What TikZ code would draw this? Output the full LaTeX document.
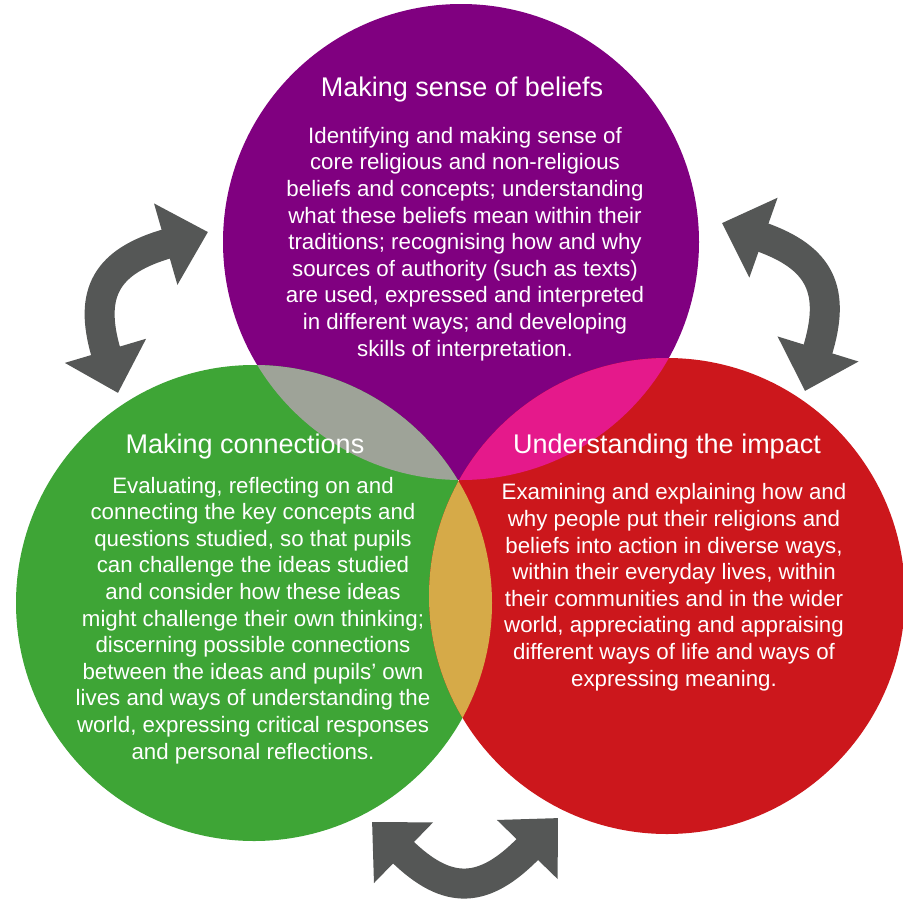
\documentclass[tikz,border=0pt]{standalone}
\usepackage{fontspec}
\setmainfont{Liberation Sans}
\usetikzlibrary{arrows.meta}

\definecolor{sensepurple}{HTML}{800080}
\definecolor{connectgreen}{HTML}{3EA536}
\definecolor{impactred}{HTML}{CC171C}
\definecolor{lensgray}{HTML}{9EA398}
\definecolor{lenspink}{HTML}{E5198B}
\definecolor{lensorange}{HTML}{D6AA48}
\definecolor{arrowgray}{HTML}{555756}

\begin{document}
\begin{tikzpicture}[
    x=1pt, y=-1pt,
    bubble/.style={circle, minimum size=476pt, inner sep=0pt, draw=none},
    heading/.style={text=white, anchor=base, inner sep=0pt, font=\fontsize{27}{30}\selectfont},
    body/.style={text=white, anchor=base, inner sep=0pt, align=center, font=\fontsize{22.3}{26.6}\selectfont},
    swaparrow/.style={line width=30pt, draw=arrowgray, {Triangle[length=44pt,width=82pt]}-{Triangle[length=44pt,width=82pt]}}
]
    \useasboundingbox (0,0) rectangle (903,900);

    % the three circles
    \node[bubble, fill=sensepurple] (sense) at (461,242) {};
    \node[bubble, fill=connectgreen] (connect) at (254,603) {};
    \node[bubble, fill=impactred] (impact) at (667,596) {};

    % overlaps
    \begin{scope}
        \clip (sense.center) circle (238);
        \fill[lensgray] (connect.center) circle (238);
        \fill[lenspink] (impact.center) circle (238);
    \end{scope}
    \begin{scope}
        \clip (connect.center) circle (238);
        \fill[lensorange] (impact.center) circle (238);
    \end{scope}

    % texts (body nodes sit on the baseline of their last line)
    \node[heading] (sensetitle) at (462,96) {Making sense of beliefs};
    \node[body] (sensetext) at (465,356) {Identifying and making sense of\\
        core religious and non-religious\\
        beliefs and concepts; understanding\\
        what these beliefs mean within their\\
        traditions; recognising how and why\\
        sources of authority (such as texts)\\
        are used, expressed and interpreted\\
        in different ways; and developing\\
        skills of interpretation.};

    \node[heading] (connecttitle) at (245,453) {Making connections};
    \node[body] (connecttext) at (253,759) {Evaluating, reflecting on and\\
        connecting the key concepts and\\
        questions studied, so that pupils\\
        can challenge the ideas studied\\
        and consider how these ideas\\
        might challenge their own thinking;\\
        discerning possible connections\\
        between the ideas and pupils’ own\\
        lives and ways of understanding the\\
        world, expressing critical responses\\
        and personal reflections.};

    \node[heading] (impacttitle) at (667,453) {Understanding the impact};
    \node[body] (impacttext) at (674,686) {Examining and explaining how and\\
        why people put their religions and\\
        beliefs into action in diverse ways,\\
        within their everyday lives, within\\
        their communities and in the wider\\
        world, appreciating and appraising\\
        different ways of life and ways of\\
        expressing meaning.};

    % arrow ends
    \coordinate (leftup) at (208,232);
    \coordinate (leftdown) at (118,393);
    \coordinate (rightup) at (722,223);
    \coordinate (rightdown) at (805,391);
    \coordinate (botleft) at (372,822);
    \coordinate (botright) at (558,818);

    \draw[swaparrow] (leftup) .. controls (107,261) and (88,292) .. (leftdown);
    \draw[swaparrow] (rightup) .. controls (821,258) and (836,291) .. (rightdown);
    \draw[swaparrow] (botleft) .. controls (448,896) and (484,894) .. (botright);

\end{tikzpicture}
\end{document}
